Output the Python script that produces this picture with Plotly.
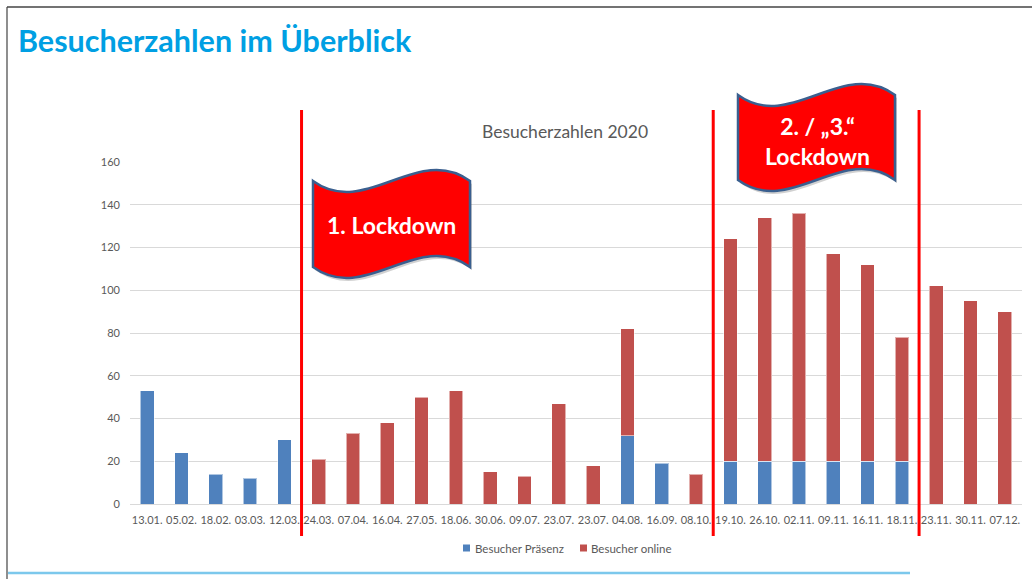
import plotly.graph_objects as go

# ---- data ----
dates = ["13.01.", "05.02.", "18.02.", "03.03.", "12.03.", "24.03.", "07.04.", "16.04.",
         "27.05.", "18.06.", "30.06.", "09.07.", "23.07.", "23.07.", "04.08.", "16.09.",
         "08.10.", "19.10.", "26.10.", "02.11.", "09.11.", "16.11.", "18.11.", "23.11.",
         "30.11.", "07.12."]
besucher_praesenz = [53, 24, 14, 12, 30, None, None, None, None, None, None, None, None, None,
                     32, 19, None, 20, 20, 20, 20, 20, 20, None, None, None]
besucher_online = [None, None, None, None, None, 21, 33, 38, 50, 53, 15, 13, 47, 18,
                   50, None, 14, 104, 114, 116, 97, 92, 58, 102, 95, 90]
y_ticks = [0, 20, 40, 60, 80, 100, 120, 140, 160]
series_names = ["Besucher Präsenz", "Besucher online"]
series_colors = ["#4F81BD", "#C0504D"]
# lockdown boundaries (between category indices)
lockdown_bounds = [4.5, 16.5, 22.5]

W, H = 1032, 579
L, R, T, B = 130, 1022, 162, 504  # plot area in pixels


def px(x, y):
    return ((x - L) / (R - L), (B - y) / (B - T))


x_idx = list(range(len(dates)))

fig = go.Figure()
for vals, name, col in zip([besucher_praesenz, besucher_online], series_names, series_colors):
    fig.add_bar(x=x_idx, y=vals, name=name, showlegend=False,
                marker=dict(color=col, line=dict(color="rgba(255,255,255,0.55)", width=1)))

gray = "#595959"
font_family = "Lato, 'Noto Sans', sans-serif"

fig.update_layout(
    width=W, height=H,
    barmode="stack", bargap=0.6,
    plot_bgcolor="white", paper_bgcolor="white",
    margin=dict(l=L, r=W - R, t=T, b=H - B),
    font=dict(family=font_family, color=gray, size=11),
    xaxis=dict(range=[-0.5, len(dates) - 0.5], tickmode="array", tickvals=x_idx,
               ticktext=dates, showgrid=False, showline=True, linecolor="#D9D9D9",
               linewidth=1, ticks="", tickfont=dict(size=11, color=gray),
               ticklabelstandoff=6, zeroline=False, tickangle=0),
    yaxis=dict(range=[0, 160], tickmode="array", tickvals=y_ticks, showgrid=True,
               gridcolor="#D9D9D9", gridwidth=1, zeroline=False, ticks="",
               tickfont=dict(size=11, color=gray), ticklabelstandoff=9, showline=False),
)

shapes = []
# lockdown red lines
for xb in lockdown_bounds:
    shapes.append(dict(type="line", xref="x", yref="paper", x0=xb, x1=xb,
                       y0=px(0, 536)[1], y1=px(0, 110)[1],
                       line=dict(color="#FF0000", width=3), layer="above"))


def flag_path(l, t, r, b, c, dx=0, dy=0):
    l, t, r, b = l + dx, t + dy, r + dx, b + dy
    w = r - l

    def p(x, y):
        xx, yy = px(x, y)
        return f"{xx:.5f},{yy:.5f}"
    return (f"M {p(l, t)} C {p(l + w / 3, t + c)} {p(l + 2 * w / 3, t - c)} {p(r, t)} "
            f"L {p(r, b)} C {p(l + 2 * w / 3, b - c)} {p(l + w / 3, b + c)} {p(l, b)} Z")


flags = [(313, 181, 470, 267), (738, 95, 895, 180)]
for (fl, ft, fr, fb) in flags:
    shapes.append(dict(type="path", xref="paper", yref="paper",
                       path=flag_path(fl, ft, fr, fb, 38, 2, 3),
                       fillcolor="rgba(0,0,0,0.18)", line=dict(width=0), layer="above"))
    shapes.append(dict(type="path", xref="paper", yref="paper",
                       path=flag_path(fl, ft, fr, fb, 38),
                       fillcolor="#FF0000", line=dict(color="#3A5F8F", width=2.5),
                       layer="above"))

# slide frame lines
shapes.append(dict(type="line", xref="paper", yref="paper",
                   x0=px(7, 0)[0], x1=px(1032, 0)[0], y0=px(0, 7)[1], y1=px(0, 7)[1],
                   line=dict(color="#444444", width=1.5)))
shapes.append(dict(type="line", xref="paper", yref="paper",
                   x0=px(7, 0)[0], x1=px(7, 0)[0], y0=px(0, 7)[1], y1=px(0, 579)[1],
                   line=dict(color="#444444", width=1.2)))
# bottom light blue line
shapes.append(dict(type="line", xref="paper", yref="paper",
                   x0=px(8, 0)[0], x1=px(910, 0)[0], y0=px(0, 573)[1], y1=px(0, 573)[1],
                   line=dict(color="#7CC8EC", width=2.5)))

# legend (drawn as swatches + labels, like the Excel legend)
legend_items = [(463, 474), (580, 590)]
for (sx, tx), col, name in zip(legend_items, series_colors, series_names):
    x0, y0 = px(sx, 551.5)
    x1, y1 = px(sx + 7, 544.5)
    shapes.append(dict(type="rect", xref="paper", yref="paper", x0=x0, x1=x1, y0=y0, y1=y1,
                       fillcolor=col, line=dict(width=0)))

fig.update_layout(shapes=shapes)

annotations = [
    dict(text="<b>Besucherzahlen im Überblick</b>", xref="paper", yref="paper",
         x=px(16, 0)[0], y=px(0, 40)[1], xanchor="left", yanchor="middle", showarrow=False,
         font=dict(family=font_family, size=30.5, color="#009FE3")),
    dict(text="Besucherzahlen 2020", xref="paper", yref="paper",
         x=px(565, 0)[0], y=px(0, 132)[1], xanchor="center", yanchor="middle", showarrow=False,
         font=dict(family=font_family, size=17.5, color=gray)),
    dict(text="<b>1. Lockdown</b>", xref="paper", yref="paper",
         x=px(391, 0)[0], y=px(0, 225)[1], xanchor="center", yanchor="middle", showarrow=False,
         font=dict(family=font_family, size=23, color="white")),
    dict(text="<b>2. / „3.“<br>Lockdown</b>", xref="paper", yref="paper",
         x=px(817, 0)[0], y=px(0, 141)[1], xanchor="center", yanchor="middle", showarrow=False,
         font=dict(family=font_family, size=23, color="white")),
]
for (sx, tx), name in zip(legend_items, series_names):
    annotations.append(dict(text=name, xref="paper", yref="paper",
                            x=px(tx, 0)[0], y=px(0, 548)[1], xanchor="left", yanchor="middle",
                            showarrow=False, xshift=-1,
                            font=dict(family=font_family, size=11.5, color=gray)))
fig.update_layout(annotations=annotations)

fig.write_html("out.html", config={"displayModeBar": False},
               post_script="document.body.style.margin='0';")
